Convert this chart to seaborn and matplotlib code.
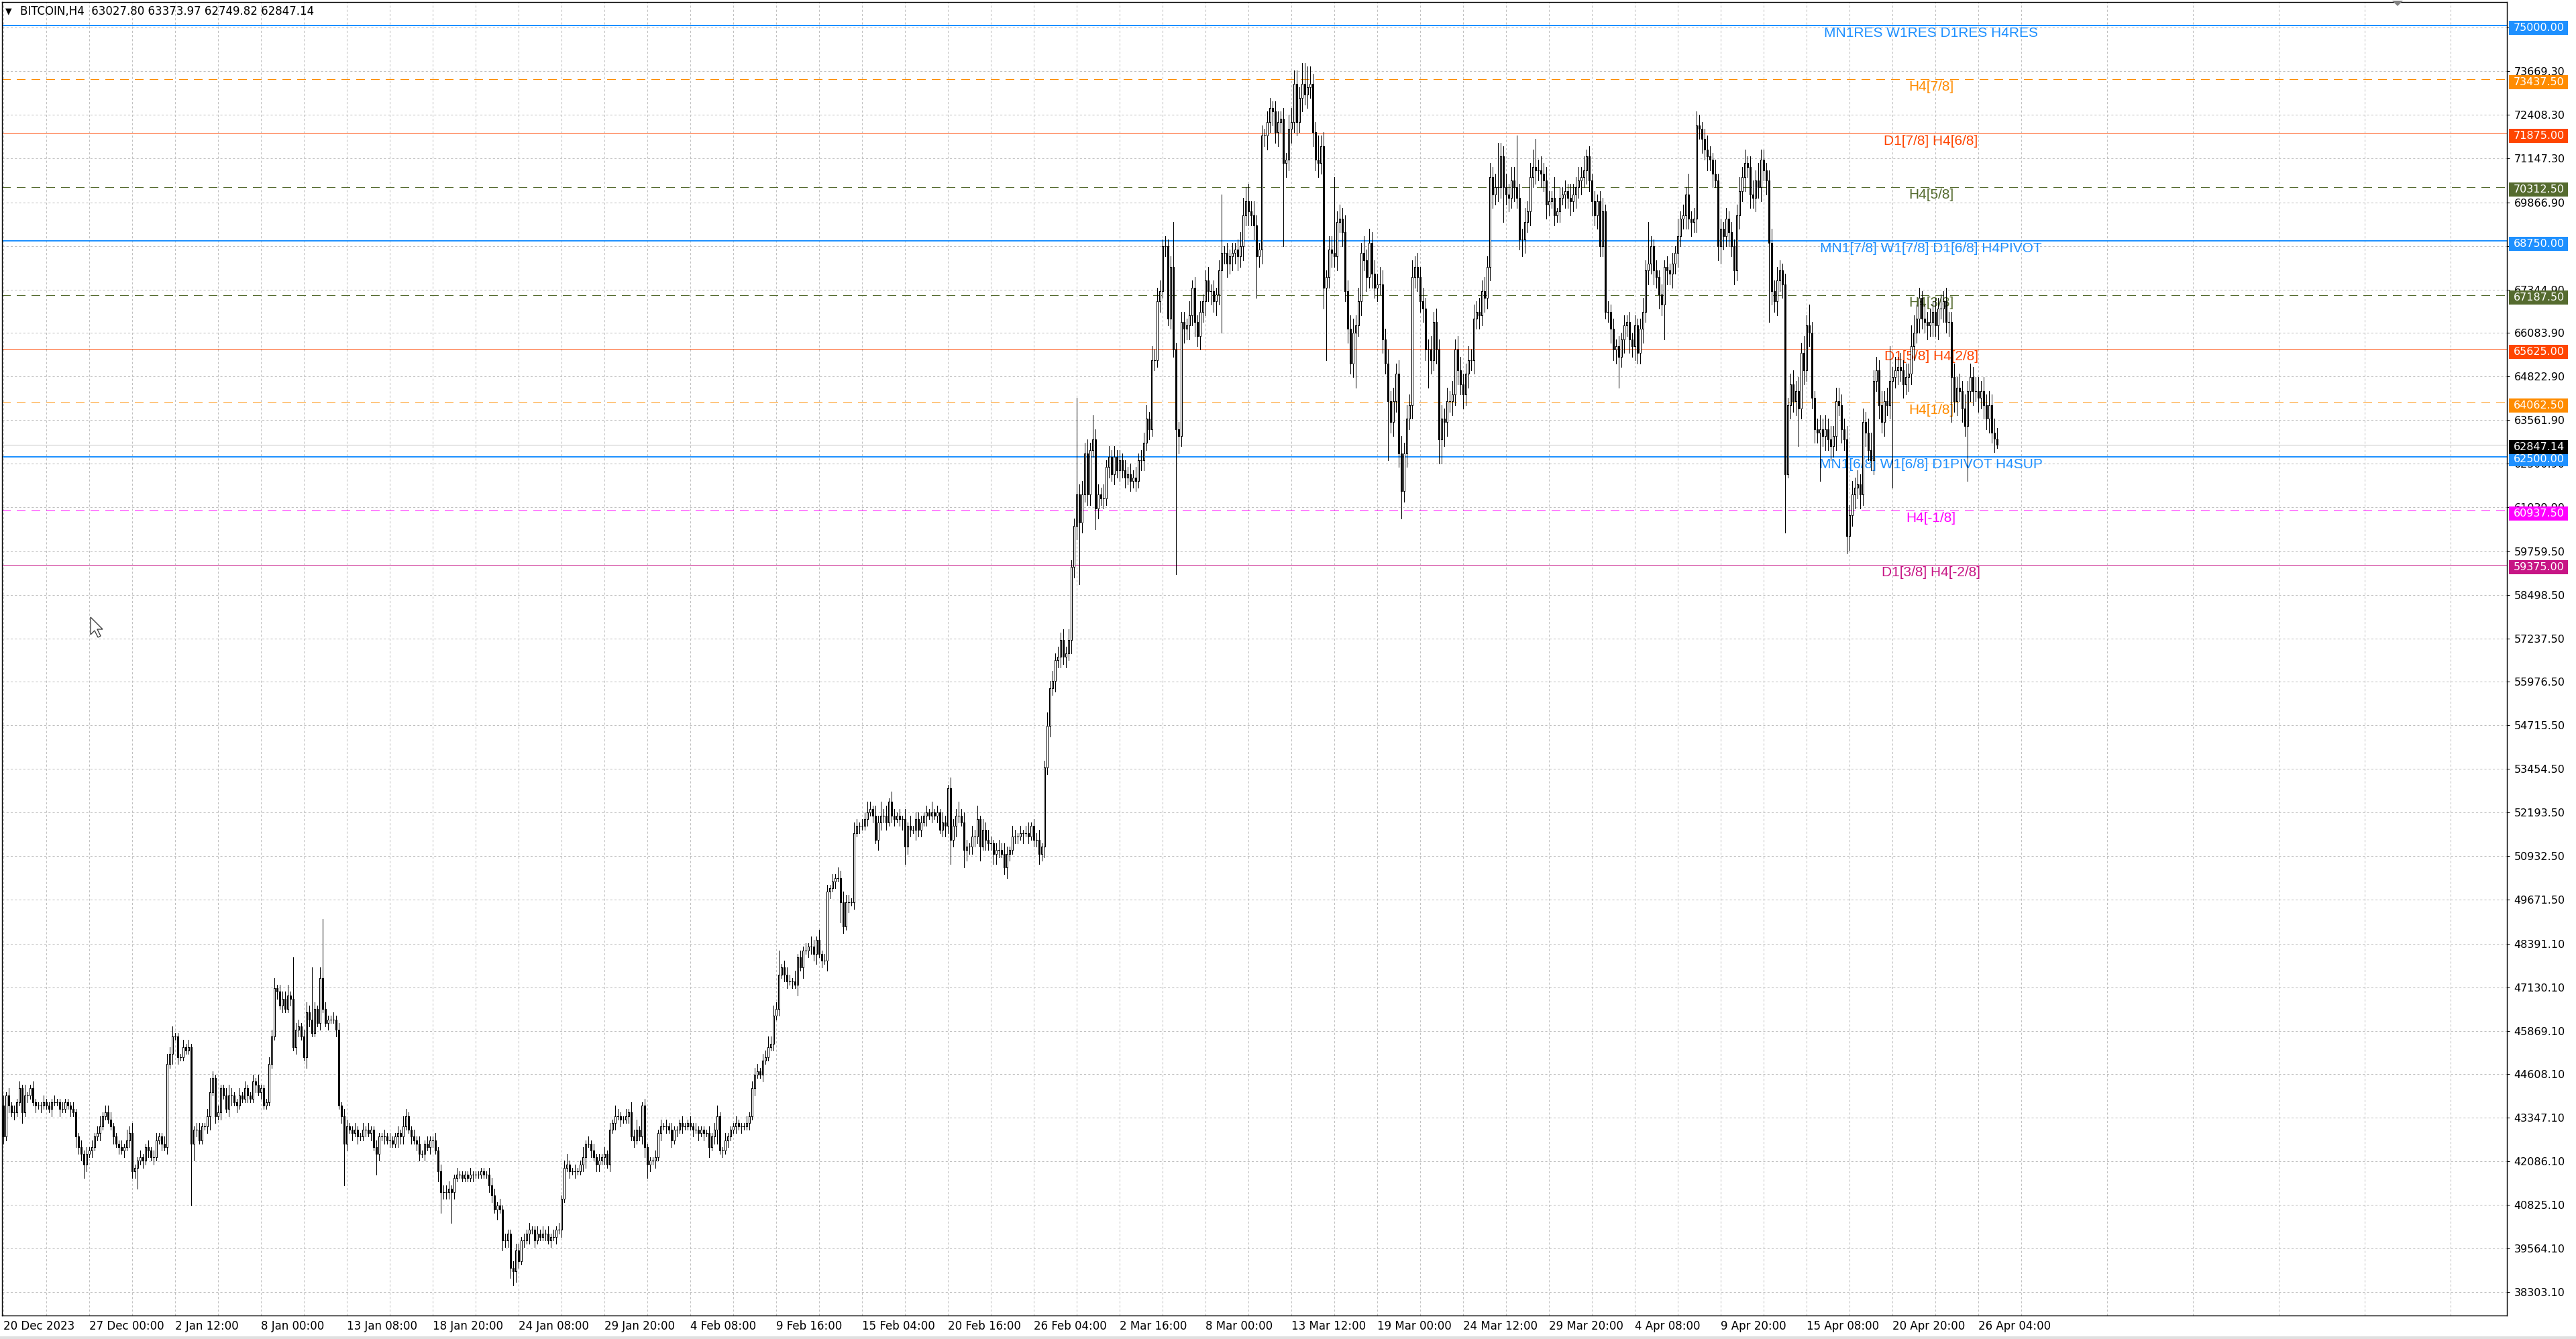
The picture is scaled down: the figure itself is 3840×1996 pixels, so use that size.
import numpy as np
import pandas as pd
import matplotlib
matplotlib.use("Agg")
import matplotlib.pyplot as plt
import seaborn as sns
from matplotlib.patches import Rectangle, Polygon
from matplotlib.transforms import blended_transform_factory

# ---- data (prices in hundreds of USD, H4 bars) ----
FIRST_OPEN = 437

CLOSE_A = [
    428, 440, 437, 435, 435, 438, 442, 435, 440, 440,
    442, 438, 437, 437, 437, 438, 437, 436, 438, 438,
    438, 436, 436, 438, 437, 436, 435, 428, 425, 423,
    420, 423, 424, 425, 428, 429, 431, 434, 435, 433,
    431, 428, 426, 425, 424, 425, 427, 429, 418, 419,
    421, 422, 421, 425, 424, 422, 422, 427, 428, 426,
    425, 449, 452, 457, 457, 451, 451, 454, 453, 454,
    426, 430, 430, 427, 431, 431, 434, 441, 445, 434,
    435, 442, 440, 436, 440, 440, 438, 437, 440, 439,
    442, 440, 439, 444, 443, 441, 442, 437, 438, 449,
    457, 471, 470, 466, 468, 465, 469, 468, 454, 459,
    460, 457, 451, 464, 462, 458, 465, 461, 474, 465,
    461, 462, 462, 462, 459, 437, 434, 426, 431, 430,
    429, 430, 428, 428, 430, 430, 429, 430, 425, 423,
    428, 428, 428, 427, 427, 426, 428, 429, 428, 431,
    434, 430, 428, 427, 426, 423, 423, 426, 425, 427,
    427, 424, 418, 412, 412, 412, 413, 412, 416, 417,
    417, 416, 417, 416, 417, 417, 417, 417, 418, 417,
    417, 414, 411, 407, 408, 407, 398, 398, 400, 390,
    389, 395,
]
CLOSE_B = [
    392, 398, 398, 400, 401, 401, 398, 400, 399, 400,
    400, 398, 399, 399, 401, 401, 410, 419, 420, 418,
    418, 418, 418, 420, 422, 426, 426, 424, 422, 420,
    421, 422, 423, 420, 430, 432, 434, 434, 433, 433,
    434, 435, 428, 427, 430, 428, 437, 425, 420, 421,
    421, 422, 429, 431, 431, 431, 430, 427, 430, 430,
    432, 431, 431, 432, 431, 430, 430, 429, 430, 429,
    429, 425, 428, 430, 434, 424, 424, 427, 428, 430,
    431, 432, 431, 431, 431, 432, 434, 442, 446, 447,
    446, 450, 451, 454, 455, 463, 465, 475, 477, 475,
    473, 473, 473, 472, 480, 477, 482, 482, 483, 483,
    481, 485, 481, 479, 479, 499, 500, 502, 503, 503,
    496, 489, 496, 496, 496, 516, 518, 518, 518, 520,
    522, 523, 521, 514, 519, 521, 521, 519, 525, 521,
    520, 521, 520, 520, 512, 518, 517, 517, 520, 517,
    519, 521, 522, 521, 522, 521, 522, 517, 519, 518,
    529, 514, 518, 521, 521, 519, 511, 512, 512, 515,
    515, 520, 512, 517, 514, 513, 513, 510, 511, 511,
    510, 506, 510, 511, 515, 515, 515, 516, 516, 516,
    515, 518, 514,
]
CLOSE_C = [
    514, 510, 512, 535, 547, 558, 560, 566, 567, 572,
    567, 568, 572, 593, 605, 614, 606, 614, 626, 614,
    627, 630, 610, 614, 613, 613, 622, 625, 620, 625,
    621, 624, 621, 619, 620, 618, 619, 618, 624, 624,
    629, 636, 633, 653, 653, 670, 673, 686, 686, 665,
    680, 656, 633, 631, 664, 662, 663, 666, 674, 664,
    660, 667, 670, 676, 673, 673, 670, 672, 679, 684,
    684, 681, 683, 684, 685, 683, 686, 695, 699, 696,
    695, 692, 683, 685, 718, 718, 722, 726, 725, 719,
    722, 723, 710, 711, 720, 722, 733, 722, 729, 733,
    730, 732, 733, 719, 711, 710, 715, 674, 677, 685,
    684, 683, 693, 694, 690, 673, 662, 652, 661, 663,
    670, 684, 682, 677, 687, 678, 674, 675, 675, 659,
    652, 641, 635, 641, 649, 626, 615, 626, 636, 640,
    677, 680, 677, 670, 668, 656, 656, 653, 664, 656,
    630, 636, 635, 641, 641, 643, 656, 650, 646, 643,
    649, 653, 653, 665, 667, 666, 673, 671, 680, 706,
    701, 703, 703, 712, 703, 701, 700, 705, 703, 700,
    688, 688, 693, 696, 706, 709, 708, 708, 707, 705,
    698,
]
CLOSE_D = [
    699, 700, 695, 696, 700, 701, 702, 700, 699, 701,
    703, 705, 706, 708, 712, 705, 699, 695, 699, 686,
    696, 667, 667, 662, 656, 657, 654, 659, 663, 664,
    659, 657, 663, 655, 662, 667, 679, 681, 686, 679,
    677, 672, 669, 680, 679, 678, 681, 684, 689, 694,
    695, 701, 694, 693, 694, 721, 720, 717, 714, 712,
    711, 707, 705, 686, 691, 689, 694, 690, 686, 679,
    695, 702, 706, 710, 709, 701, 700, 705, 703, 711,
    708, 705, 687, 673, 670, 676, 679, 675, 620, 640,
    646, 641, 644, 639, 655, 650, 663, 661, 642, 633,
    632, 633, 631, 633, 630, 628, 631, 641, 640, 633,
    630, 602, 608, 614, 616, 617, 614, 635, 632, 627,
    624, 647, 650, 640, 635, 641, 640, 647, 648, 650,
    651, 650, 646, 648, 649, 657, 661, 665, 671, 665,
    664, 663, 664, 667, 663, 668, 668, 670, 664, 664,
    648, 641, 645, 644, 639, 634, 644, 648, 644, 644,
    642, 644, 640, 636, 640, 632, 630.28, 628.47,
]

# wick lengths above / below the body, hundreds of USD, one char per bar
WICK_CHARS = "0123456789abcdefghijklmnopqrstuvwxyzABCDEFGHIJKLMNOPQRSTUVWXYZ"
UP_A = ("3121212131 1211121112 1121112112 1212123122 2111213231 1211212211 "
        "2323111212 1122112421 2112321121 2112131112 23122231c2 21232f213h "
        "2112121221 1211212112 1121211213 2112121121 1212222112 1111211111 "
        "1222121211 22")
DN_A = ("2121211312 1121211121 1211121322 4212112111 1212121222 6121212112 "
        "1213121111 i521112412 1211231211 1211212111 1121211212 2113211121 "
        "1211212c21 2121121216 2121211322 1121221212 2136222921 1111121111 "
        "1221313223 43")
UP_B = ("2121211212 1212121231 1211312121 2121213211 2132311211 1212121211 "
        "1211212111 1212311211 1211121222 1223232712 2213121213 2131221213 "
        "2322132122 3213242313 2121313122 2121312132 1322423213 2413232123 "
        "2321321212 312")
DN_B = ("2121312111 2121212112 1211231212 2121212121 1212112342 1212121212 "
        "1211121212 1312412121 1212112121 1211121212 2121313122 2312132121 "
        "6213121211 2121322212 2123522132 2131212123 2723215322 3241322332 "
        "1232122131 212")
UP_C = ("2312423232 32322s3434 2733242323 2323232323 3424343232 3d22332423 "
        "232342323h 2323234545 3432323323 3232444436 6653373424 4m34353443 "
        "4353434354 3434345343 5343433434 3434343443 3434343434 34d434344f "
        "4343458343 4")
DN_C = ("2323232323 232434i323 3263232323 2323232323 3232323232 32G5343434 "
        "343434343i 3434343434 34c3434343 43o4343434 34343436l3 434343434g "
        "3434343434 3h34348343 434343b434 7774343434 3434343434 4343a34343 "
        "3543434343 4")
UP_D = ("3261323243 3434232323 4232323232 3232343c32 3232323252 3262343234 "
        "3242323232 3434234353 3234343232 3434353632 3434343443 3434343434 "
        "5343434a34 3434365432 4343434343 3434343434 43434343")
DN_D = ("3232324343 4343434343 3234349343 4343343434 343a434343 3434343434 "
        "3424543434 3434343434 34n43434h1 434b343434 3e34343434 3543434343 "
        "34343434v3 4343434343 3434343434 d34343g343 43434341")

X_LABELS = ["20 Dec 2023", "27 Dec 00:00", "2 Jan 12:00", "8 Jan 00:00",
            "13 Jan 08:00", "18 Jan 20:00", "24 Jan 08:00", "29 Jan 20:00",
            "4 Feb 08:00", "9 Feb 16:00", "15 Feb 04:00", "20 Feb 16:00",
            "26 Feb 04:00", "2 Mar 16:00", "8 Mar 00:00", "13 Mar 12:00",
            "19 Mar 00:00", "24 Mar 12:00", "29 Mar 20:00", "4 Apr 08:00",
            "9 Apr 20:00", "15 Apr 08:00", "20 Apr 20:00", "26 Apr 04:00"]

Y_TICKS = [74930.30, 73669.30, 72408.30, 71147.30, 69866.90, 68605.90,
           67344.90, 66083.90, 64822.90, 63561.90, 62300.90, 61039.90,
           59759.50, 58498.50, 57237.50, 55976.50, 54715.50, 53454.50,
           52193.50, 50932.50, 49671.50, 48391.10, 47130.10, 45869.10,
           44608.10, 43347.10, 42086.10, 40825.10, 39564.10, 38303.10]

LEVELS = [75000, 73437.5, 71875, 70312.5, 68750, 67187.5, 65625, 64062.5,
          62500, 60937.5, 59375]
LEVEL_NAMES = ["MN1RES W1RES D1RES H4RES", "H4[7/8]", "D1[7/8] H4[6/8]",
               "H4[5/8]", "MN1[7/8] W1[7/8] D1[6/8] H4PIVOT", "H4[3/8]",
               "D1[5/8] H4[2/8]", "H4[1/8]", "MN1[6/8] W1[6/8] D1PIVOT H4SUP",
               "H4[-1/8]", "D1[3/8] H4[-2/8]"]
LEVEL_COLORS = ["#1E90FF", "#FF8C00", "#FF4500", "#556B2F", "#1E90FF",
                "#556B2F", "#FF4500", "#FF8C00", "#1E90FF", "#FF00FF",
                "#C71585"]
LEVEL_KIND = ["main", "dash", "solid", "dash", "main", "dash", "solid",
              "dash", "main", "dash", "solid"]

LAST_PRICE = 62847.14
HEADER = "BITCOIN,H4  63027.80 63373.97 62749.82 62847.14"


def wick_list(s):
    return [WICK_CHARS.index(c) for c in s.replace(" ", "")]


closes = np.array(CLOSE_A + CLOSE_B + CLOSE_C + CLOSE_D, dtype=float) * 100
opens = np.concatenate([[FIRST_OPEN * 100], closes[:-1]])
up = np.array(wick_list(UP_A + " " + UP_B + " " + UP_C + " " + UP_D)) * 100
dn = np.array(wick_list(DN_A + " " + DN_B + " " + DN_C + " " + DN_D)) * 100
n = min(len(closes), len(up), len(dn))

df = pd.DataFrame({"open": opens[:n], "close": closes[:n]})
df["high"] = df[["open", "close"]].max(axis=1) + up[:n]
df["low"] = df[["open", "close"]].min(axis=1) - dn[:n]
df["bar"] = np.arange(n)

# ---- figure ----
sns.set_theme(style="white")
plt.rcParams["font.family"] = ["DejaVu Sans"]

W, H = 3840, 1996
THIN = 0.6  # about one device pixel
fig = plt.figure(figsize=(W / 100, H / 100), dpi=100, facecolor="white")
ax = fig.add_axes([3 / W, 35 / H, 3734 / W, 1958 / H])
ax.set_facecolor("white")
ax.set_xlim(-0.5, 933.0)
ax.set_ylim(37620, 75673)

# grid and scales
ax.set_axisbelow(True)
ax.set_xticks(np.arange(0, 32 * len(X_LABELS), 32))
ax.set_xticklabels(X_LABELS, ha="left")
ax.set_xticks(np.arange(16, 933, 32), minor=True)
ax.yaxis.tick_right()
ax.set_yticks(Y_TICKS)
ax.set_yticklabels([f"{v:.2f}" for v in Y_TICKS])
ax.grid(True, which="both", color="#c0c0c0", linestyle=(0, (3, 3)), linewidth=0.75)
ax.tick_params(axis="x", which="major", length=3, width=0.75, pad=2,
               labelsize=12, colors="black", direction="out")
ax.tick_params(axis="x", which="minor", length=0)
ax.tick_params(axis="y", length=3, width=0.75, pad=4.5, labelsize=11.5,
               colors="black", direction="out", right=True, left=False)
for sp in ax.spines.values():
    sp.set_color("black")
    sp.set_linewidth(1.0)
    sp.set_visible(True)

# level lines and their labels
label_x = 718.4
for lvl, name, col, kind in zip(LEVELS, LEVEL_NAMES, LEVEL_COLORS, LEVEL_KIND):
    if kind == "main":
        ax.axhline(lvl, color=col, linewidth=1.3, zorder=1, antialiased=False)
    elif kind == "solid":
        ax.axhline(lvl, color=col, linewidth=THIN, zorder=1, antialiased=False)
    else:
        ax.axhline(lvl, color=col, linewidth=THIN, linestyle=(0, (15, 11)),
                   zorder=1, antialiased=False)
    ax.annotate(name, xy=(label_x, lvl), xytext=(0, -1.5), textcoords="offset points",
                ha="center", va="top", color=col, fontsize=15,
                family=["Liberation Sans", "DejaVu Sans"], zorder=1.5)
ax.axhline(LAST_PRICE, color="#c0c0c0", linewidth=THIN, zorder=1, antialiased=False)

# candles
ax.vlines(df["bar"], df["low"], df["high"], color="black", linewidth=THIN,
          zorder=3, antialiased=False)
bull = df["close"] >= df["open"]
ax.bar(df["bar"][bull], (df["close"] - df["open"])[bull], bottom=df["open"][bull],
       width=0.55, facecolor="white", edgecolor="black", linewidth=THIN, zorder=4,
       antialiased=False)
ax.bar(df["bar"][~bull], (df["open"] - df["close"])[~bull], bottom=df["close"][~bull],
       width=0.55, facecolor="black", edgecolor="black", linewidth=THIN, zorder=4,
       antialiased=False)

# price boxes on the right scale
tr = blended_transform_factory(ax.transAxes, ax.transData)
box_h = 21 / 0.05145
shift = 4 / 0.05145
boxes = list(zip(LEVELS, LEVEL_COLORS)) + [(LAST_PRICE, "black")]
for lvl, col in boxes:
    ax.add_patch(Rectangle((1.0008, lvl - shift - box_h / 2), 88 / 3734, box_h,
                           transform=tr, facecolor=col, edgecolor="none",
                           clip_on=False, zorder=6))
    ax.text(1.00268, lvl - shift, f"{lvl:.2f}", transform=tr, ha="left",
            va="center", color="white", fontsize=11.5, zorder=7, clip_on=False)

# header
fig.text(8 / W, 1 - 17 / H, "\u25bc", fontsize=9, color="black", va="center", ha="left")
fig.text(30 / W, 1 - 17 / H, HEADER, fontsize=12, color="black", va="center", ha="left")


# window details: shift marker at the top, mouse pointer, bottom border
def fig_pts(points):
    return [(x / W, 1 - y / H) for x, y in points]


fig.add_artist(Polygon(fig_pts([(3566, 1), (3582, 1), (3574, 9)]), closed=True,
                       facecolor="#808080", edgecolor="none"))
cursor = [(0, 0), (0, 26), (6, 20), (11, 30), (15, 28), (10, 18), (18, 18)]
fig.add_artist(Polygon(fig_pts([(135 + x, 920 + y) for x, y in cursor]), closed=True,
                       facecolor="white", edgecolor="#404040", linewidth=1.0))
fig.add_artist(Rectangle((0, 0), 1, 4 / H, transform=fig.transFigure,
                         facecolor="#e0e0e0", edgecolor="none"))

fig.savefig("out.png", dpi=100, facecolor="white")
